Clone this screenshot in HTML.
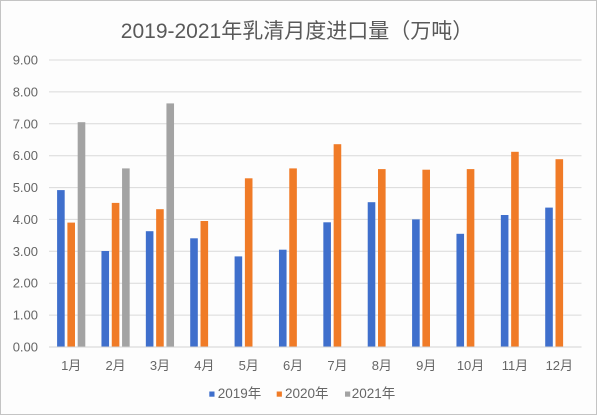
<!DOCTYPE html>
<html>
<head>
<meta charset="utf-8">
<style>
  html, body { margin: 0; padding: 0; background: #ffffff; }
  svg { display: block; }
  text { font-family: "Liberation Sans", "Noto Sans CJK SC", sans-serif; fill: #666666; }
</style>
</head>
<body>
<svg width="600" height="416" viewBox="0 0 600 416" xmlns="http://www.w3.org/2000/svg">
  <rect x="0" y="0" width="600" height="416" fill="#ffffff"/>
  <rect x="0.5" y="0.5" width="596" height="414" fill="#fdfdfd" stroke="#c4c4c4" stroke-width="1"/>

  <!-- Title -->
  <text x="297" y="38" font-size="21" text-anchor="middle" style="fill:#595959">2019-2021年乳清月度进口量（万吨）</text>

  <!-- Gridlines -->
  <g stroke="#dadada" stroke-width="1">
    <line x1="49" y1="60" x2="581.5" y2="60"/>
    <line x1="49" y1="91.9" x2="581.5" y2="91.9"/>
    <line x1="49" y1="123.8" x2="581.5" y2="123.8"/>
    <line x1="49" y1="155.7" x2="581.5" y2="155.7"/>
    <line x1="49" y1="187.6" x2="581.5" y2="187.6"/>
    <line x1="49" y1="219.4" x2="581.5" y2="219.4"/>
    <line x1="49" y1="251.3" x2="581.5" y2="251.3"/>
    <line x1="49" y1="283.2" x2="581.5" y2="283.2"/>
    <line x1="49" y1="315.1" x2="581.5" y2="315.1"/>
  </g>

  <!-- Y labels -->
  <g font-size="13" text-anchor="end">
    <text x="38" y="64.5">9.00</text>
    <text x="38" y="96.4">8.00</text>
    <text x="38" y="128.3">7.00</text>
    <text x="38" y="160.2">6.00</text>
    <text x="38" y="192.1">5.00</text>
    <text x="38" y="223.9">4.00</text>
    <text x="38" y="255.8">3.00</text>
    <text x="38" y="287.7">2.00</text>
    <text x="38" y="319.6">1.00</text>
    <text x="38" y="351.5">0.00</text>
  </g>

  <!-- 2019 bars (blue) -->
  <g fill="#3f6fcc">
    <rect x="57.09" y="190.1" width="7.6" height="156.9"/>
    <rect x="101.46" y="251.0" width="7.6" height="96.0"/>
    <rect x="145.84" y="231.2" width="7.6" height="115.8"/>
    <rect x="190.21" y="238.3" width="7.6" height="108.7"/>
    <rect x="234.59" y="256.4" width="7.6" height="90.6"/>
    <rect x="278.96" y="249.7" width="7.6" height="97.3"/>
    <rect x="323.34" y="222.3" width="7.6" height="124.7"/>
    <rect x="367.71" y="202.2" width="7.6" height="144.8"/>
    <rect x="412.09" y="219.4" width="7.6" height="127.6"/>
    <rect x="456.46" y="233.8" width="7.6" height="113.2"/>
    <rect x="500.84" y="215.0" width="7.6" height="132.0"/>
    <rect x="545.21" y="207.6" width="7.6" height="139.4"/>
  </g>

  <!-- 2020 bars (orange) -->
  <g fill="#f07b27">
    <rect x="67.39" y="222.6" width="7.6" height="124.4"/>
    <rect x="111.76" y="202.9" width="7.6" height="144.1"/>
    <rect x="156.14" y="209.2" width="7.6" height="137.8"/>
    <rect x="200.51" y="221.0" width="7.6" height="126.0"/>
    <rect x="244.89" y="178.3" width="7.6" height="168.7"/>
    <rect x="289.26" y="168.4" width="7.6" height="178.6"/>
    <rect x="333.64" y="144.2" width="7.6" height="202.8"/>
    <rect x="378.01" y="169.1" width="7.6" height="177.9"/>
    <rect x="422.39" y="169.7" width="7.6" height="177.3"/>
    <rect x="466.76" y="169.1" width="7.6" height="177.9"/>
    <rect x="511.14" y="151.8" width="7.6" height="195.2"/>
    <rect x="555.51" y="159.2" width="7.6" height="187.8"/>
  </g>

  <!-- 2021 bars (gray) -->
  <g fill="#a3a3a3">
    <rect x="77.69" y="122.2" width="7.6" height="224.8"/>
    <rect x="122.06" y="168.4" width="7.6" height="178.6"/>
    <rect x="166.44" y="103.4" width="7.6" height="243.6"/>
  </g>

  <!-- Zero axis line -->
  <line x1="49" y1="347" x2="581.5" y2="347" stroke="#d2d2d2" stroke-width="1"/>

  <!-- X labels -->
  <g font-size="13" text-anchor="middle">
    <text x="71.19" y="370">1月</text>
    <text x="115.56" y="370">2月</text>
    <text x="159.94" y="370">3月</text>
    <text x="204.31" y="370">4月</text>
    <text x="248.69" y="370">5月</text>
    <text x="293.06" y="370">6月</text>
    <text x="337.44" y="370">7月</text>
    <text x="381.81" y="370">8月</text>
    <text x="426.19" y="370">9月</text>
    <text x="470.56" y="370">10月</text>
    <text x="514.94" y="370">11月</text>
    <text x="559.31" y="370">12月</text>
  </g>

  <!-- Legend -->
  <rect x="209.3" y="391.5" width="5.2" height="5.2" fill="#3f6fcc"/>
  <text x="217.7" y="398" font-size="13.5">2019年</text>
  <rect x="276.7" y="391.5" width="5.2" height="5.2" fill="#f07b27"/>
  <text x="285" y="398" font-size="13.5">2020年</text>
  <rect x="345" y="391.5" width="5.2" height="5.2" fill="#a3a3a3"/>
  <text x="351.7" y="398" font-size="13.5">2021年</text>
</svg>
</body>
</html>
